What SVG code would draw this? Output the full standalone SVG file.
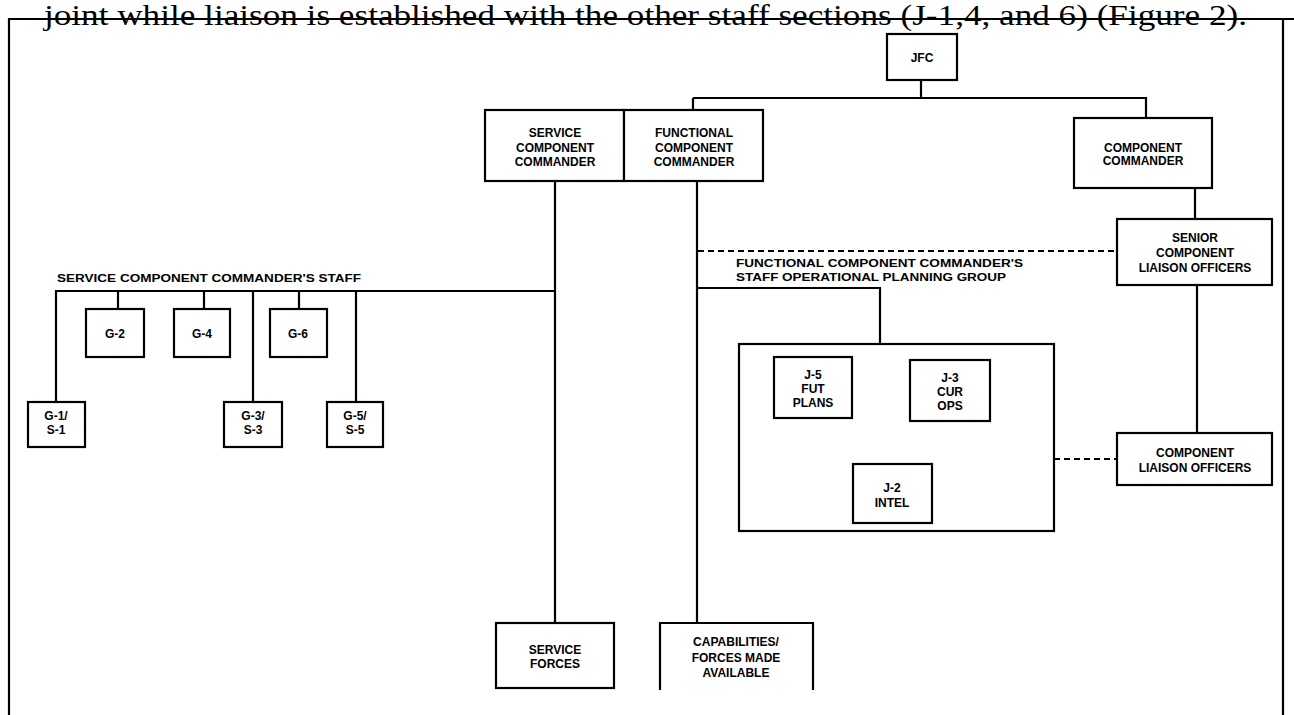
<svg xmlns="http://www.w3.org/2000/svg" width="1294" height="715" viewBox="0 0 1294 715">
<style>
.b{fill:#fff;stroke:#000;stroke-width:2.2}
.l{fill:none;stroke:#000;stroke-width:2.2}
.d{fill:none;stroke:#000;stroke-width:1.8;stroke-dasharray:6,4}
.t{font-family:"Liberation Sans",Arial,sans-serif;font-weight:bold;font-size:12px;text-anchor:middle;fill:#000}
.s{font-family:"Liberation Sans",Arial,sans-serif;font-weight:bold;font-size:10px;fill:#000}
</style>
<rect width="1294" height="715" fill="#fff"/>
<text x="44" y="25" font-family="'Liberation Serif','Times New Roman',serif" font-size="29" textLength="1203" lengthAdjust="spacingAndGlyphs">joint while liaison is established with the other staff sections (J-1,4, and 6) (Figure 2).</text>
<path class="l" d="M9 716 V19 H1294 M1283 19 V716"/>
<g id="connectors">
<path class="l" d="M921 80 V98 M693 98 H1146 V118 M693 98 V110"/>
<path class="l" d="M1195 188 V219 M1197 285 V433"/>
<path class="l" d="M555 181 V623 M697 181 V623"/>
<path class="l" d="M697 288 H880 V344"/>
<path class="l" d="M55 291 H555 M118 291 V309 M204 291 V309 M299 291 V309 M56 291 V402 M253 291 V402 M356 291 V402"/>
<path class="d" d="M698 251 H1117 M1054 459 H1117"/>
</g>
<g id="jfc"><rect class="b" x="887" y="34" width="70" height="46"/><text class="t" x="922" y="62">JFC</text></g>
<g id="service-commander"><rect class="b" x="485" y="110" width="139" height="71"/><text class="t" x="555" y="137">SERVICE</text><text class="t" x="555" y="152">COMPONENT</text><text class="t" x="555" y="166">COMMANDER</text></g>
<g id="functional-commander"><rect class="b" x="624" y="110" width="139" height="71"/><text class="t" x="694" y="137">FUNCTIONAL</text><text class="t" x="694" y="152">COMPONENT</text><text class="t" x="694" y="166">COMMANDER</text></g>
<g id="component-commander"><rect class="b" x="1074" y="118" width="138" height="70"/><text class="t" x="1143" y="152">COMPONENT</text><text class="t" x="1143" y="165">COMMANDER</text></g>
<g id="senior-liaison"><rect class="b" x="1117" y="219" width="155" height="66"/><text class="t" x="1195" y="242">SENIOR</text><text class="t" x="1195" y="257">COMPONENT</text><text class="t" x="1195" y="272">LIAISON OFFICERS</text></g>
<g id="component-liaison"><rect class="b" x="1117" y="433" width="155" height="52"/><text class="t" x="1195" y="457">COMPONENT</text><text class="t" x="1195" y="472">LIAISON OFFICERS</text></g>
<g id="staff-label"><text class="s" x="57" y="282" textLength="304" lengthAdjust="spacingAndGlyphs">SERVICE COMPONENT COMMANDER'S STAFF</text></g>
<g id="g2"><rect class="b" x="86" y="309" width="58" height="48"/><text class="t" x="115" y="338">G-2</text></g>
<g id="g4"><rect class="b" x="174" y="309" width="56" height="48"/><text class="t" x="202" y="338">G-4</text></g>
<g id="g6"><rect class="b" x="270" y="309" width="57" height="48"/><text class="t" x="298" y="338">G-6</text></g>
<g id="g1"><rect class="b" x="28" y="402" width="57" height="45"/><text class="t" x="56" y="420">G-1/</text><text class="t" x="56" y="434">S-1</text></g>
<g id="g3"><rect class="b" x="224" y="402" width="58" height="45"/><text class="t" x="253" y="420">G-3/</text><text class="t" x="253" y="434">S-3</text></g>
<g id="g5"><rect class="b" x="327" y="402" width="56" height="45"/><text class="t" x="355" y="420">G-5/</text><text class="t" x="355" y="434">S-5</text></g>
<g id="opg-label"><text class="s" x="736" y="267" textLength="287" lengthAdjust="spacingAndGlyphs">FUNCTIONAL COMPONENT COMMANDER'S</text><text class="s" x="736" y="281" textLength="270" lengthAdjust="spacingAndGlyphs">STAFF OPERATIONAL PLANNING GROUP</text></g>
<g id="opg"><rect class="b" x="739" y="344" width="315" height="187"/></g>
<g id="j5"><rect class="b" x="774" y="357" width="78" height="61"/><text class="t" x="813" y="379">J-5</text><text class="t" x="813" y="393">FUT</text><text class="t" x="813" y="407">PLANS</text></g>
<g id="j3"><rect class="b" x="910" y="360" width="80" height="61"/><text class="t" x="950" y="382">J-3</text><text class="t" x="950" y="396">CUR</text><text class="t" x="950" y="410">OPS</text></g>
<g id="j2"><rect class="b" x="853" y="464" width="79" height="59"/><text class="t" x="892" y="492">J-2</text><text class="t" x="892" y="507">INTEL</text></g>
<g id="service-forces"><rect class="b" x="496" y="623" width="118" height="65"/><text class="t" x="555" y="654">SERVICE</text><text class="t" x="555" y="668">FORCES</text></g>
<g id="capabilities"><path class="b" d="M660 690 V623 H813 V690"/><text class="t" x="736" y="646">CAPABILITIES/</text><text class="t" x="736" y="662">FORCES MADE</text><text class="t" x="736" y="677">AVAILABLE</text></g>
</svg>
